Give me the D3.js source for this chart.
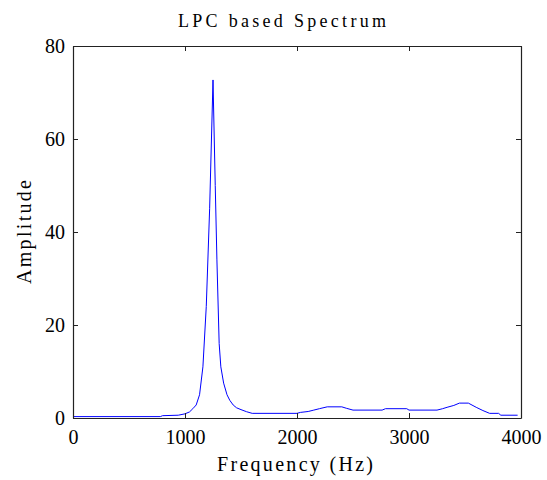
<!DOCTYPE html>
<html>
<head>
<meta charset="utf-8">
<script src="https://cdn.jsdelivr.net/npm/d3@7"></script>
<style>
  body { margin: 0; background: #fff; }
</style>
</head>
<body>
<div class="chart"></div>
<script>
// frequency samples (Hz) and LPC amplitude
const freqs = [0, 780, 800, 940, 1000, 1040, 1070, 1100, 1130, 1160, 1190, 1220, 1250,
  1270, 1285, 1305, 1320, 1345, 1375, 1400, 1430, 1460, 1500, 1550, 1600,
  2000, 2030, 2100, 2150, 2200, 2270, 2400, 2440, 2500, 2760, 2790, 2980, 3000,
  3250, 3300, 3340, 3400, 3450, 3530, 3600, 3660, 3720, 3800, 3820, 3970];
const amps = [0.3, 0.3, 0.5, 0.6, 0.9, 1.3, 2.0, 2.8, 5.0, 11, 24, 45, 72.7,
  50, 34, 16, 11, 7.5, 5, 3.8, 2.8, 2.2, 1.8, 1.35, 1.0,
  1.0, 1.2, 1.4, 1.7, 2.0, 2.4, 2.4, 2.1, 1.7, 1.7, 2.0, 2.0, 1.7,
  1.7, 2.0, 2.3, 2.7, 3.2, 3.2, 2.3, 1.6, 1.0, 1.0, 0.6, 0.6];
const xTicks = [0, 1000, 2000, 3000, 4000];
const yTicks = [0, 20, 40, 60, 80];

const width = 547;
const height = 480;
const mLeft = 73, mRight = 521, mTop = 46, mBottom = 418;
const tick = 5;
const serif = 'Liberation Serif';

const data = freqs.map((f, i) => ({ f: f, a: amps[i] }));

/* Scale */
const xScale = d3.scaleLinear().domain([0, 4000]).range([mLeft, mRight]);
const yScale = d3.scaleLinear().domain([0, 80]).range([mBottom, mTop]);

const svg = d3.select('.chart').append('svg')
  .attr('width', width)
  .attr('height', height);

/* Line */
const line = d3.line()
  .x(d => xScale(d.f))
  .y(d => yScale(d.a));

svg.append('path')
  .datum(data)
  .attr('fill', 'none')
  .attr('stroke', '#0000ff')
  .attr('stroke-width', 1)
  .attr('d', line);

/* Axes, matlab style box with inward ticks */
const fmt = d3.format('d');
const xAxis = d3.axisBottom(xScale).tickValues(xTicks).tickFormat(fmt).tickSizeInner(-tick).tickSizeOuter(0).tickPadding(12);
const yAxis = d3.axisLeft(yScale).tickValues(yTicks).tickFormat(fmt).tickSizeInner(-tick).tickSizeOuter(0).tickPadding(8);
const xTop = d3.axisTop(xScale).tickValues(xTicks).tickSizeInner(-tick).tickSizeOuter(0).tickFormat('');
const yRight = d3.axisRight(yScale).tickValues(yTicks).tickSizeInner(-tick).tickSizeOuter(0).tickFormat('');

svg.append('g').attr('class', 'xaxis').attr('transform', `translate(0, ${mBottom})`).call(xAxis);
svg.append('g').attr('class', 'yaxis').attr('transform', `translate(${mLeft}, 0)`).call(yAxis);
svg.append('g').attr('transform', `translate(0, ${mTop})`).call(xTop);
svg.append('g').attr('transform', `translate(${mRight}, 0)`).call(yRight);

svg.selectAll('g').attr('font-family', serif).attr('font-size', 20);
svg.selectAll('.domain').attr('stroke', '#222').attr('stroke-width', 1.2);
svg.selectAll('.tick line').attr('stroke', '#222');
svg.selectAll('.tick text').attr('fill', '#000');
svg.select('.xaxis').selectAll('.tick text').attr('dy', '0.71em');

/* Labels */
svg.append('text')
  .attr('x', 282)
  .attr('y', 27)
  .attr('text-anchor', 'middle')
  .attr('textLength', 208)
  .attr('lengthAdjust', 'spacing')
  .attr('font-family', serif)
  .attr('font-size', 18)
  .text('LPC based Spectrum');

svg.append('text')
  .attr('x', 295)
  .attr('y', 471)
  .attr('text-anchor', 'middle')
  .attr('textLength', 156)
  .attr('lengthAdjust', 'spacing')
  .attr('font-family', serif)
  .attr('font-size', 20)
  .text('Frequency (Hz)');

svg.append('text')
  .attr('transform', `translate(31, ${(mTop + mBottom) / 2}) rotate(-90)`)
  .attr('text-anchor', 'middle')
  .attr('textLength', 104)
  .attr('lengthAdjust', 'spacing')
  .attr('font-family', serif)
  .attr('font-size', 20)
  .text('Amplitude');
</script>
</body>
</html>
